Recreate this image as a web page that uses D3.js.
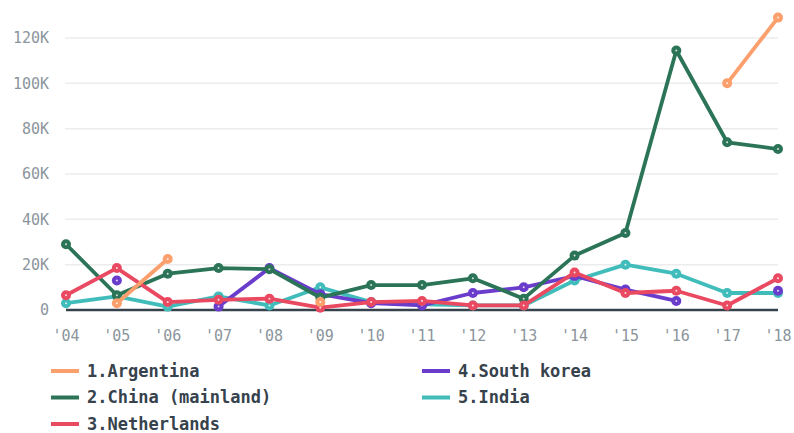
<!DOCTYPE html>
<html>
<head>
<meta charset="UTF-8">
<title>Chart</title>
<script src="https://cdn.jsdelivr.net/npm/d3@7"></script>
<style>
  body { margin: 0; background: #fff; }
  svg { display: block; }
  .tick-label { font-family: "DejaVu Sans Mono", monospace; font-size: 15px; fill: #8b959c; }
  .legend-label { font-family: "DejaVu Sans Mono", monospace; font-size: 17px; font-weight: bold; fill: #36424c; }
</style>
</head>
<body>
<script>
  var years = ["'04", "'05", "'06", "'07", "'08", "'09", "'10", "'11", "'12", "'13", "'14", "'15", "'16", "'17", "'18"];
  var yTicks = [0, 20000, 40000, 60000, 80000, 100000, 120000];

  var argentina   = [null, 3000, 22500, null, null, 3500, null, null, null, null, null, null, null, 100000, 129000];
  var china       = [29000, 6500, 16000, 18500, 18000, 5500, 11000, 11000, 14000, 5000, 24000, 34000, 114500, 74000, 71000];
  var netherlands = [6500, 18500, 3500, 4500, 5000, 1000, 3500, 4000, 2000, 2000, 16500, 7500, 8500, 2000, 14000];
  var southKorea  = [null, 13000, null, 1500, 18500, 7000, 3000, 2000, 7500, 10000, 15000, 9000, 4000, null, 8500];
  var india       = [3000, 6000, 1500, 6000, 2000, 10000, 3500, 2500, 2000, 2000, 13000, 20000, 16000, 7500, 7500];

  var series = [
    { name: '1.Argentina', values: argentina, color: '#fb9f6c' },
    { name: '2.China (mainland)', values: china, color: '#2b7458' },
    { name: '3.Netherlands', values: netherlands, color: '#e94a61' },
    { name: '4.South korea', values: southKorea, color: '#6a3ccb' },
    { name: '5.India', values: india, color: '#40bdbb' }
  ];
  // draw order (back to front)
  var drawOrder = [4, 3, 1, 2, 0];

  var width = 794, height = 433;
  var svg = d3.select('body').append('svg')
    .attr('width', width)
    .attr('height', height);

  var x = d3.scalePoint().domain(years).range([66, 778]);
  var y = d3.scaleLinear().domain([0, 120000]).range([310, 38]);

  // grid
  svg.append('g').selectAll('line')
    .data(yTicks.filter(function(d) { return d > 0; }))
    .enter().append('line')
    .attr('x1', 65).attr('x2', 778)
    .attr('y1', function(d) { return y(d); })
    .attr('y2', function(d) { return y(d); })
    .attr('stroke', '#ececec')
    .attr('stroke-width', 1.5);

  // y labels
  svg.append('g').selectAll('text')
    .data(yTicks)
    .enter().append('text')
    .attr('class', 'tick-label')
    .attr('x', 49)
    .attr('y', function(d) { return y(d); })
    .attr('dy', '0.35em')
    .attr('text-anchor', 'end')
    .text(function(d) { return d === 0 ? '0' : (d / 1000) + 'K'; });

  // x labels
  svg.append('g').selectAll('text')
    .data(years)
    .enter().append('text')
    .attr('class', 'tick-label')
    .attr('x', function(d) { return x(d); })
    .attr('y', 336)
    .attr('dy', '0.35em')
    .attr('text-anchor', 'middle')
    .text(function(d) { return d; });

  // baseline
  svg.append('line')
    .attr('x1', 66).attr('x2', 778)
    .attr('y1', y(0)).attr('y2', y(0))
    .attr('stroke', '#37434c')
    .attr('stroke-width', 2.5);

  var line = d3.line()
    .defined(function(d) { return d != null; })
    .x(function(d, i) { return x(years[i]); })
    .y(function(d) { return y(d); });

  drawOrder.forEach(function(k) {
    var s = series[k];
    var g = svg.append('g');
    g.append('path')
      .attr('d', line(s.values))
      .attr('fill', 'none')
      .attr('stroke', s.color)
      .attr('stroke-width', 3.8)
      .attr('stroke-linejoin', 'round');
    var pts = s.values.map(function(v, i) { return { v: v, i: i }; })
      .filter(function(d) { return d.v != null; });
    g.selectAll('circle.dot')
      .data(pts)
      .enter().append('circle')
      .attr('cx', function(d) { return x(years[d.i]); })
      .attr('cy', function(d) { return y(d.v); })
      .attr('r', 5)
      .attr('fill', s.color);
    g.selectAll('circle.ctr')
      .data(pts)
      .enter().append('circle')
      .attr('cx', function(d) { return x(years[d.i]); })
      .attr('cy', function(d) { return y(d.v); })
      .attr('r', 1)
      .attr('fill', '#fff')
      .attr('opacity', 0.8);
  });

  // legend
  var legend = svg.append('g');
  series.forEach(function(s, i) {
    var col = i < 3 ? 0 : 1;
    var row = i < 3 ? i : i - 3;
    var lx = col === 0 ? 51 : 422;
    var ly = 371 + row * 26.5;
    legend.append('line')
      .attr('x1', lx).attr('x2', lx + 28)
      .attr('y1', ly).attr('y2', ly)
      .attr('stroke', s.color)
      .attr('stroke-width', 4);
    legend.append('text')
      .attr('class', 'legend-label')
      .attr('x', lx + 36)
      .attr('y', ly)
      .attr('dy', '0.33em')
      .text(s.name);
  });
</script>
</body>
</html>
